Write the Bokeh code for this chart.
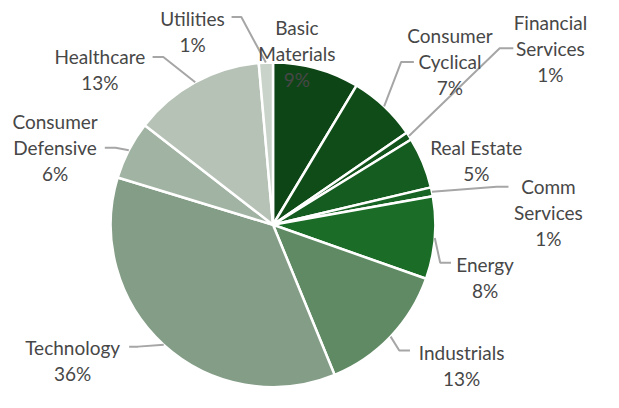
import numpy as np
from bokeh.plotting import figure
from bokeh.models import Range1d, ColumnDataSource
from bokeh.core.properties import value
from bokeh.embed import file_html
from bokeh.resources import INLINE

# ---- data ----
sectors = ["Basic Materials", "Consumer Cyclical", "Financial Services", "Real Estate",
           "Comm Services", "Energy", "Industrials", "Technology",
           "Consumer Defensive", "Healthcare", "Utilities"]
weights = [8.6, 6.8, 0.8, 5.1, 0.9, 8.2, 13.4, 35.9, 5.8, 13.1, 1.4]
label_lines = [["Basic", "Materials"], ["Consumer", "Cyclical"], ["Financial", "Services"],
               ["Real Estate"], ["Comm", "Services"], ["Energy"], ["Industrials"],
               ["Technology"], ["Consumer", "Defensive"], ["Healthcare"], ["Utilities"]]

# ---- style / layout ----
colors = ["#0e4517", "#0f4c18", "#12531b", "#155c20", "#186424", "#1a6c26",
          "#5f8a63", "#849d87", "#a1b3a2", "#b6c2b6", "#c9d3c9"]
W, H = 603, 392
S = 0.975  # uniform scale to fit the window


def X(rx):
    return 272.5 + (rx - 280.5) * S


def Y(ry):
    return H - (ry - 11) * S


CX, CY, R = 280.5, 241.0, 166.5
LINE_SP = 26.67
label_pos = {  # centre x / first-line baseline in reference pixels
    "Basic Materials": (305, 39), "Consumer Cyclical": (462, 46.7),
    "Financial Services": (565, 33.3), "Real Estate": (489, 161.7),
    "Comm Services": (563, 201.7), "Energy": (498, 281.7), "Industrials": (474, 372),
    "Technology": (75, 366.7), "Consumer Defensive": (57, 135),
    "Healthcare": (103, 68.3), "Utilities": (198, 29.3),
}
leaders = {  # elbow and end points in reference pixels
    "Utilities": [(248, 28), (238, 28)],
    "Healthcare": [(168, 69), (157, 69)],
    "Consumer Defensive": [(119, 162), (108, 162)],
    "Technology": [(142, 366), (133, 366)],
    "Industrials": [(410, 370), (421, 370)],
    "Energy": [(452, 280), (463, 280)],
    "Comm Services": [(510, 202), (522, 202)],
    "Financial Services": [(513, 60), (527, 60)],
    "Consumer Cyclical": [(412, 74), (425, 74)],
}

w = np.array(weights, dtype=float)
cum = np.concatenate([[0.0], np.cumsum(w)]) / w.sum()
start = np.pi / 2 - 2 * np.pi * cum[:-1]
end = np.pi / 2 - 2 * np.pi * cum[1:]
mid = (start + end) / 2

p = figure(width=W, height=H, x_range=Range1d(0, W), y_range=Range1d(0, H),
           output_backend="svg", toolbar_location=None, min_border=0)
p.axis.visible = False
p.grid.visible = False
p.outline_line_color = None
p.background_fill_color = "white"
p.border_fill_color = "white"

src = ColumnDataSource(dict(start=start, end=end, color=colors, sector=sectors))
p.wedge(x=X(CX), y=Y(CY), radius=R * S, start_angle="start", end_angle="end",
        direction="clock", fill_color="color", line_color="white", line_width=2.5,
        source=src)

# leader lines
xs, ys = [], []
for i, s in enumerate(sectors):
    if s in leaders:
        ex = X(CX) + R * S * np.cos(mid[i])
        ey = Y(CY) + R * S * np.sin(mid[i])
        pts = leaders[s]
        xs.append([ex] + [X(a) for a, b in pts])
        ys.append([ey] + [Y(b) for a, b in pts])
p.multi_line(xs, ys, line_color="#a6a6a6", line_width=2)

# labels
tx, ty, tt = [], [], []
for i, s in enumerate(sectors):
    lx, ly = label_pos[s]
    lines = label_lines[i] + [f"{round(weights[i])}%"]
    for k, t in enumerate(lines):
        tx.append(X(lx))
        ty.append(Y(ly + k * LINE_SP))
        tt.append(t)
p.text(x=tx, y=ty, text=tt, text_align="center", text_baseline="alphabetic",
       text_font=value("Lato"), text_font_size="19px", text_color="#474747")

open("out.html", "w").write(file_html(p, INLINE))
